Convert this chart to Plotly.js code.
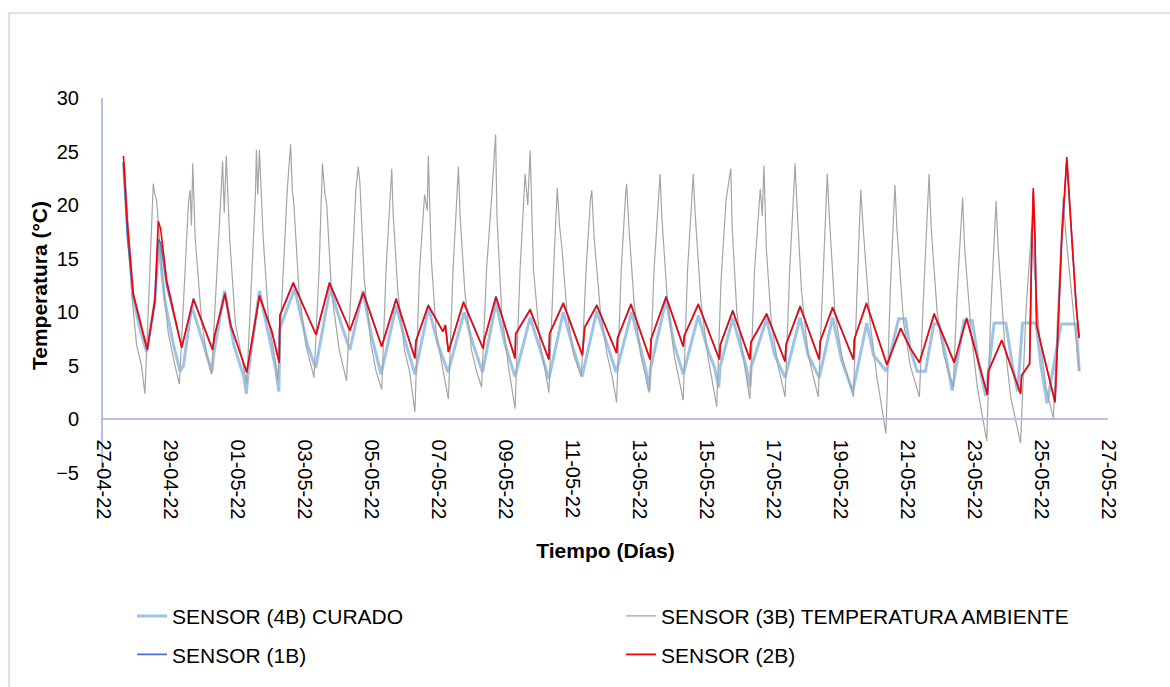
<!DOCTYPE html>
<html>
<head>
<meta charset="utf-8">
<script src="https://cdn.plot.ly/plotly-3.0.1.min.js"></script>
<style>
  html, body { margin: 0; padding: 0; background: #fff; overflow: hidden; }
  #frame { position: absolute; left: 8px; top: 12px; width: 1200px; height: 700px; border: 2px solid #dde2ea; box-sizing: border-box; pointer-events: none; }
  #chart { position: absolute; left: 0; top: 0; width: 1170px; height: 687px; }
</style>
</head>
<body>
<div id="chart"></div>
<div id="frame"></div>
<script>
// ---- DATA (days since 27-04-22 00:00, temperature in °C) ----
const startDate = '2022-04-27';
const endDate = '2022-05-27';

const names = ['SENSOR (4B) CURADO', 'SENSOR (3B) TEMPERATURA AMBIENTE', 'SENSOR (1B)', 'SENSOR (2B)'];

// SENSOR (4B) CURADO
const curadoDays = [0.61,0.73,0.90,1.10,1.30,1.55,1.66,1.85,2.10,2.30,2.40,2.65,3.00,3.25,3.30,3.63,3.90,4.20,4.28,4.32,4.67,5.00,5.15,5.25,5.28,5.72,6.10,6.35,6.78,7.10,7.37,7.76,8.00,8.30,8.75,9.05,9.31,9.72,10.00,10.30,10.78,11.05,11.33,11.73,12.00,12.30,12.75,13.05,13.31,13.74,14.00,14.30,14.74,15.05,15.32,15.78,16.05,16.20,16.30,16.34,16.81,17.05,17.32,17.77,18.05,18.25,18.38,18.42,18.80,19.05,19.20,19.31,19.35,19.81,20.05,20.36,20.81,21.05,21.38,21.78,22.05,22.38,22.80,23.00,23.38,23.75,23.95,24.10,24.30,24.55,24.80,24.95,25.15,25.35,25.70,25.95,26.15,26.35,26.60,26.95,27.15,27.30,27.45,27.85,28.00,28.18,28.60,29.05,29.14];
const curadoTemp = [24.0,18.0,11.3,8.5,6.3,11.0,16.5,11.0,7.0,4.5,5.0,10.6,7.0,4.4,6.0,12.0,7.0,4.0,2.4,4.0,12.0,7.0,4.8,2.6,8.5,12.2,7.0,4.8,12.3,9.0,6.5,12.0,8.0,4.2,10.6,7.0,4.2,10.4,7.0,4.4,10.0,7.0,4.4,10.9,7.0,4.0,9.5,6.5,3.8,10.0,7.0,4.0,10.1,7.0,4.4,10.0,6.5,4.7,2.7,4.7,11.2,7.0,4.2,9.7,6.5,4.9,3.0,4.9,9.4,6.5,4.9,3.0,4.9,9.4,6.0,3.9,9.5,6.0,3.9,9.5,5.5,2.6,9.0,6.0,4.5,9.4,9.4,6.5,4.5,4.5,8.9,8.9,6.0,2.7,9.2,9.2,5.0,2.2,9.0,9.0,5.0,2.6,9.0,9.0,5.0,1.5,8.9,8.9,4.5];

// SENSOR (3B) TEMPERATURA AMBIENTE
const ambDays = [0.64,0.70,0.85,1.00,1.15,1.25,1.35,1.45,1.50,1.55,1.60,1.75,1.95,2.15,2.28,2.42,2.55,2.60,2.64,2.68,2.75,2.95,3.10,3.24,3.38,3.50,3.57,3.62,3.68,3.78,3.95,4.15,4.29,4.42,4.55,4.58,4.62,4.67,4.78,4.95,5.12,5.22,5.37,5.50,5.60,5.65,5.70,5.85,6.05,6.30,6.45,6.55,6.62,6.68,6.82,7.05,7.27,7.42,7.55,7.62,7.67,7.80,8.00,8.15,8.32,8.45,8.58,8.62,8.66,8.80,9.00,9.15,9.31,9.45,9.60,9.68,9.71,9.80,9.95,10.15,10.31,10.45,10.58,10.61,10.66,10.80,11.00,11.15,11.30,11.45,11.60,11.72,11.76,11.90,12.10,12.30,12.45,12.60,12.68,12.75,12.85,13.05,13.20,13.31,13.45,13.56,13.63,13.70,13.85,14.05,14.28,14.42,14.55,14.59,14.66,14.85,15.05,15.20,15.33,15.47,15.60,15.63,15.70,15.85,16.05,16.31,16.45,16.60,16.63,16.68,16.85,17.05,17.32,17.45,17.58,17.62,17.68,17.85,18.05,18.32,18.45,18.60,18.74,18.78,18.92,19.10,19.31,19.45,19.62,19.68,19.73,19.80,19.95,20.15,20.36,20.50,20.66,20.70,20.85,21.05,21.35,21.48,21.62,21.68,21.85,22.05,22.40,22.52,22.62,22.70,22.90,23.10,23.37,23.50,23.64,23.70,23.90,24.10,24.37,24.50,24.66,24.72,24.90,25.10,25.38,25.50,25.66,25.72,25.92,26.10,26.38,26.50,26.66,26.72,26.92,27.10,27.39,27.55,27.72,27.80,27.95,28.15,28.37,28.50,28.66,28.75,28.90,29.14];
const ambTemp = [24.0,20.0,12.0,7.0,5.0,2.4,10.0,19.0,22.0,21.0,20.5,14.0,8.0,5.0,3.3,12.0,20.2,21.4,18.1,23.9,17.0,9.0,6.0,4.2,12.0,19.7,24.1,19.3,24.6,17.0,9.0,5.5,3.3,12.0,21.0,25.2,21.0,25.2,17.0,9.0,6.0,3.6,13.0,21.4,25.7,21.4,20.0,12.0,7.0,3.9,14.0,23.9,21.2,20.0,12.0,6.5,3.6,14.0,21.5,23.6,22.0,13.0,7.0,4.5,2.8,14.0,22.0,23.4,19.3,12.0,6.5,4.5,0.7,14.0,21.0,19.5,24.6,15.0,8.0,4.5,1.9,14.0,22.5,23.6,19.0,12.0,6.5,4.5,3.0,14.0,20.7,26.6,19.0,10.0,5.0,1.0,14.0,22.9,20.0,25.1,14.0,7.0,4.5,2.5,14.0,21.6,18.0,16.0,10.0,6.0,4.0,14.0,20.5,21.4,17.0,10.0,6.0,4.0,1.6,14.0,21.0,22.0,17.9,11.0,6.0,2.5,14.0,21.5,22.9,19.0,11.0,6.0,1.8,14.0,21.0,22.9,19.0,11.0,6.0,1.2,13.0,20.5,23.4,18.0,10.0,6.0,1.9,14.0,21.5,19.0,23.7,16.0,9.0,5.0,2.1,14.0,23.9,21.0,12.0,6.0,2.1,13.0,22.9,19.0,10.0,6.0,2.1,13.0,21.4,17.5,9.0,4.0,-1.3,12.0,21.9,17.8,9.0,5.0,2.1,12.0,22.9,18.0,10.0,6.0,3.0,12.0,20.7,16.0,8.0,3.0,-2.0,10.0,20.4,16.0,7.0,2.0,-2.2,10.0,18.0,14.0,8.0,3.0,0.1,10.0,20.7,17.0,12.0,4.5];

// SENSOR (2B) and SENSOR (1B) share the same logging times
const sensorDays = [0.61,0.725,0.90,1.15,1.32,1.55,1.65,1.72,1.90,2.35,2.70,3.27,3.33,3.64,3.81,4.29,4.67,5.04,5.26,5.28,5.68,6.36,6.76,7.37,7.77,8.32,8.75,9.31,9.34,9.71,10.15,10.22,10.31,10.76,11.35,11.38,11.73,12.30,12.32,12.75,13.31,13.33,13.74,14.31,14.38,14.74,15.33,15.36,15.76,16.33,16.36,16.81,17.32,17.35,17.77,18.40,18.43,18.80,19.31,19.34,19.81,20.36,20.39,20.81,21.38,21.41,21.78,22.40,22.43,22.79,23.40,23.81,24.09,24.37,24.81,25.41,25.78,26.40,26.43,26.83,27.39,27.42,27.66,27.72,27.77,27.82,27.87,28.00,28.42,28.62,28.77,28.89,29.05,29.14];
const sensor2B = [24.6,18.5,11.8,8.8,6.5,11.2,18.5,17.8,13.0,6.7,11.2,6.5,7.8,11.7,8.8,4.4,11.5,8.2,5.3,9.7,12.7,7.9,12.7,8.3,11.8,6.8,11.2,5.7,7.3,10.6,8.2,8.8,6.3,10.9,6.6,7.4,11.4,5.7,8.0,10.2,5.6,8.0,10.8,6.0,8.6,10.6,6.2,7.6,10.7,5.6,7.5,11.4,6.8,7.8,10.7,5.6,7.0,10.1,5.6,7.2,9.8,5.4,7.0,10.5,5.6,7.3,10.4,5.6,7.5,10.8,5.1,8.5,6.7,5.3,9.8,5.3,9.4,2.3,4.5,7.4,2.4,4.1,5.2,15.5,21.6,17.0,8.8,7.0,1.6,17.0,24.5,18.5,10.6,7.6];
const sensor1B = [24.0,17.2,11.6,8.7,6.5,11.0,16.8,16.5,12.5,6.7,11.3,6.5,7.8,11.8,8.8,4.4,11.6,8.2,5.3,9.7,12.8,7.9,12.8,8.3,11.9,6.8,11.3,5.7,7.3,10.7,8.2,8.8,6.3,11.0,6.6,7.4,11.5,5.7,8.0,10.3,5.6,8.0,10.9,6.0,8.6,10.7,6.2,7.6,10.8,5.6,7.5,11.5,6.8,7.8,10.8,5.6,7.0,10.2,5.6,7.2,9.9,5.4,7.0,10.6,5.6,7.3,10.5,5.6,7.5,10.9,5.1,8.5,6.7,5.3,9.9,5.3,9.5,2.3,4.5,7.4,2.4,4.1,5.2,15.3,21.3,16.8,8.8,7.0,1.6,16.8,24.2,18.3,10.6,7.6];

const colors = ['#9dc3e6', '#a5a5a5', '#4472c4', '#ff0000'];
const widths = [3, 1.2, 1.6, 1.6];

// ---- build ----
const T0 = Date.UTC(2022, 3, 27);
const toX = days => days.map(d => T0 + d * 86400000);

const seriesDays = [curadoDays, ambDays, sensorDays, sensorDays];
const seriesTemp = [curadoTemp, ambTemp, sensor1B, sensor2B];
const legendOf = ['legend', 'legend', 'legend2', 'legend2'];

const traces = names.map((n, i) => ({
  type: 'scatter',
  mode: 'lines',
  name: n,
  x: toX(seriesDays[i]),
  y: seriesTemp[i],
  line: { color: colors[i], width: widths[i] },
  legend: legendOf[i],
  hoverinfo: 'x+y+name'
}));

const FONT = '"Liberation Sans", Arial, sans-serif';
const axisColor = '#b4c3d9';

const legendCommon = {
  orientation: 'h',
  xanchor: 'left',
  yanchor: 'middle',
  x: 0.0289,
  entrywidth: 444,
  font: { family: FONT, size: 21, color: '#000' },
  bgcolor: 'rgba(0,0,0,0)',
  itemclick: false,
  itemdoubleclick: false
};

const layout = {
  width: 1170,
  height: 687,
  margin: { l: 103, r: 62, t: 98, b: 207 },
  paper_bgcolor: '#ffffff',
  plot_bgcolor: '#ffffff',
  font: { family: FONT, size: 20, color: '#000' },
  showlegend: true,
  xaxis: {
    type: 'date',
    range: [startDate, endDate],
    tick0: startDate,
    dtick: 2 * 86400000,
    tickformat: '%d-%m-%y',
    tickangle: 90,
    anchor: 'free',
    position: 5 / 35,
    showline: true,
    linecolor: axisColor,
    linewidth: 2,
    showgrid: false,
    zeroline: false,
    ticks: '',
    ticklabelstandoff: 15,
    tickfont: { family: FONT, size: 20, color: '#000' },
    title: { text: '<b>Tiempo (Días)</b>', font: { family: FONT, size: 21, color: '#000' }, standoff: 24 },
    automargin: false
  },
  yaxis: {
    range: [-5, 30],
    tick0: 0,
    dtick: 5,
    showline: true,
    linecolor: axisColor,
    linewidth: 2,
    showgrid: false,
    zeroline: false,
    ticks: '',
    ticklabelstandoff: 18,
    tickfont: { family: FONT, size: 20, color: '#000' },
    title: { text: '<b>Temperatura (°C)</b>', font: { family: FONT, size: 21, color: '#000' }, standoff: 3 },
    automargin: false
  },
  legend: Object.assign({}, legendCommon, { y: -0.382 }),
  legend2: Object.assign({}, legendCommon, { y: -0.4845 })
};

Plotly.newPlot('chart', traces, layout, { displayModeBar: false });
</script>
</body>
</html>
